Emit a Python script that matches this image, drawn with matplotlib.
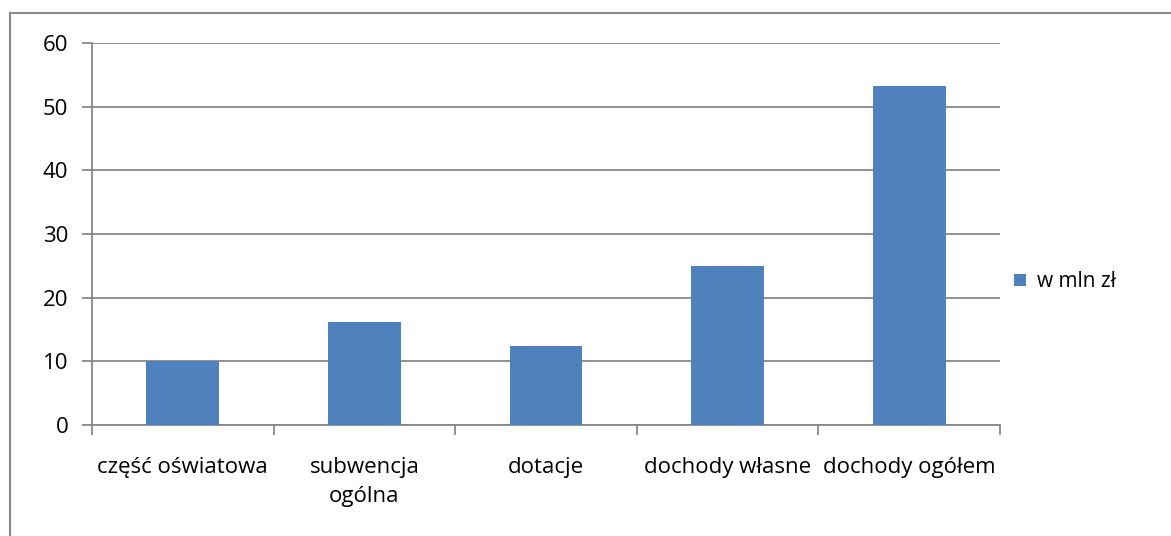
import numpy as np
import matplotlib.pyplot as plt
from matplotlib.patches import Rectangle

categories = ['część oświatowa', 'subwencja\nogólna', 'dotacje', 'dochody własne', 'dochody ogółem']
values = [10.0, 16.1, 12.4, 24.9, 53.3]
series_name = 'w mln zł'

plt.rcParams['font.family'] = ['Open Sans', 'DejaVu Sans']

W, H = 1171, 536
fig = plt.figure(figsize=(W / 100, H / 100), dpi=100)

# outer chart border (cut off on right and bottom)
fig.patches.append(Rectangle((10 / W, -0.1), 1.2, 1 - 13 / H + 0.1, transform=fig.transFigure,
                             fill=False, edgecolor='#8a8a8a', linewidth=1.5))

ax = fig.add_axes([92 / W, 1 - 425 / H, (1000 - 92) / W, (425 - 43) / H])
x = np.arange(len(categories))
ax.bar(x, values, width=0.4, color='#4F81BD', zorder=3)

ax.set_xlim(-0.5, len(categories) - 0.5)
ax.set_ylim(0, 60)
ax.set_yticks(range(0, 61, 10))
ax.yaxis.grid(True, color='#888888', linewidth=1.3, zorder=0)

ax.set_xticks(np.arange(-0.5, len(categories), 1))
ax.set_xticklabels([])
ax.set_xticks(x, minor=True)
ax.set_xticklabels(categories, minor=True, fontsize=16, linespacing=1.5, va='top')
ax.tick_params(axis='x', which='minor', length=0, pad=23)
ax.tick_params(axis='x', which='major', length=7, width=1.3, color='#888888')
ax.tick_params(axis='y', length=7, width=1.3, color='#888888', labelsize=16, pad=10)

for s in ['top', 'right']:
    ax.spines[s].set_visible(False)
for s in ['left', 'bottom']:
    ax.spines[s].set_color('#888888')
    ax.spines[s].set_linewidth(1.3)

ax.legend([series_name], loc='center left', bbox_to_anchor=(0.995, 0.375), frameon=False,
          fontsize=15, handlelength=0.55, handleheight=0.55, handletextpad=0.55)

fig.savefig('out.png', dpi=100)
